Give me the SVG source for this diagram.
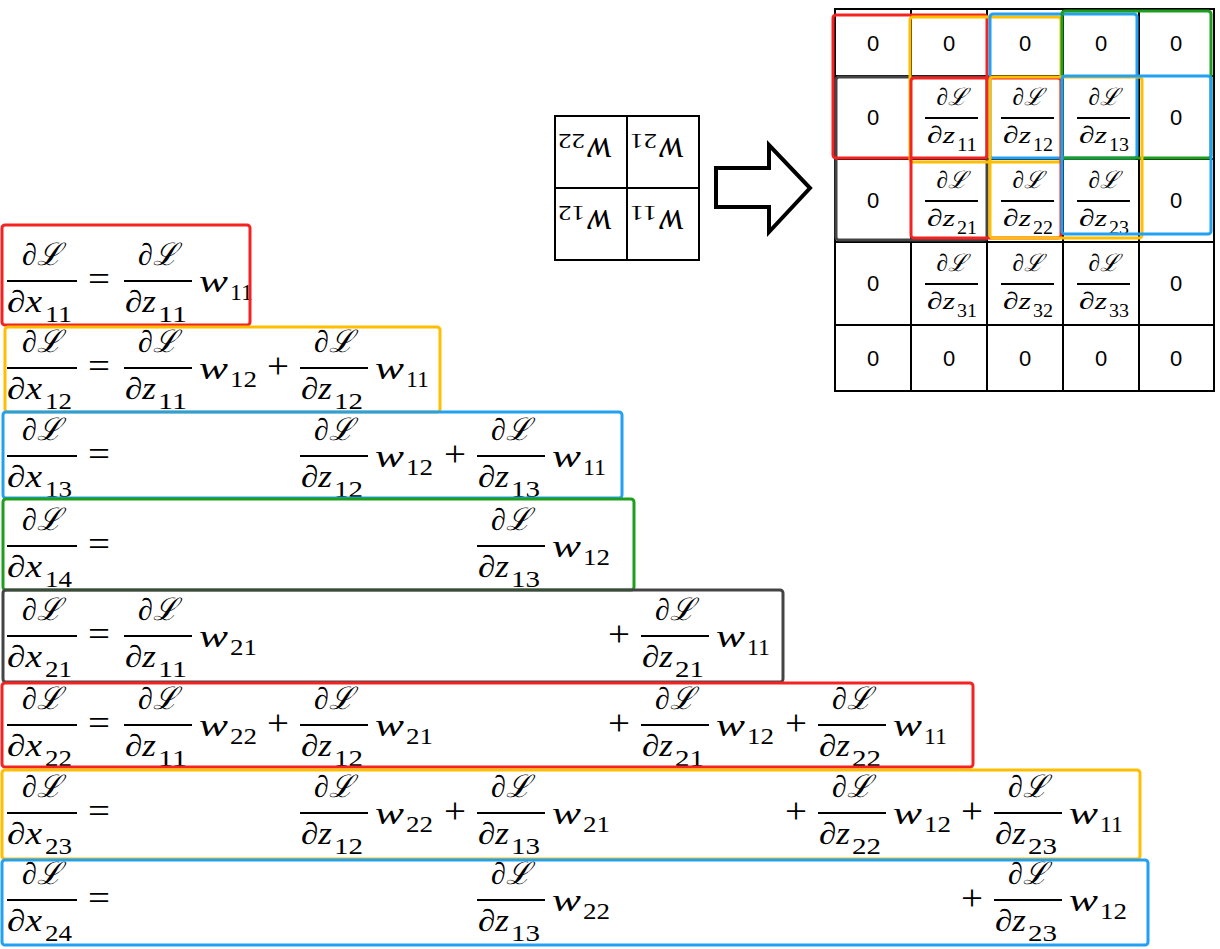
<svg xmlns="http://www.w3.org/2000/svg" width="1220" height="949" viewBox="0 0 1220 949">
<style>
.m{font-family:'Liberation Serif','DejaVu Serif',serif;font-style:italic;font-size:31px;fill:#000}
.s{font-family:'Liberation Serif','DejaVu Serif',serif;font-style:normal;font-size:24px;fill:#000}
.op{font-family:'Liberation Serif','DejaVu Serif',serif;font-size:36px;text-anchor:middle;fill:#000}
.num{text-anchor:middle}
.bar{stroke:#000;stroke-width:2}
.g{font-family:'Liberation Serif','DejaVu Serif',serif;font-style:italic;font-size:24px;fill:#000}
.gs{font-family:'Liberation Serif','DejaVu Serif',serif;font-style:normal;font-size:18px;fill:#000}
.z{font-family:'Liberation Sans',Arial,sans-serif;font-size:22px;text-anchor:middle;fill:#000}
.k{font-family:'Liberation Serif','DejaVu Serif',serif;font-style:italic;font-size:40px;fill:#000}
.ks{font-family:'Liberation Serif','DejaVu Serif',serif;font-style:normal;font-size:20px;fill:#000}
.box{fill:none;stroke-width:3}
.red{stroke:#F52222}.org{stroke:#FFBE00}.blu{stroke:#22A0F2}.grn{stroke:#1E9E1E}.gry{stroke:#444}
.cell{fill:none;stroke:#000;stroke-width:2}
</style>
<defs>
<clipPath id="c1"><rect x="0" y="224" width="252" height="102"/></clipPath>
<clipPath id="c2"><rect x="0" y="326" width="442" height="87"/></clipPath>
<clipPath id="c3"><rect x="0" y="411" width="624" height="88"/></clipPath>
<clipPath id="c4"><rect x="0" y="498" width="636" height="93"/></clipPath>
<clipPath id="c5"><rect x="0" y="589" width="785" height="94"/></clipPath>
<clipPath id="c6"><rect x="0" y="682" width="975" height="86"/></clipPath>
<clipPath id="c7"><rect x="0" y="769" width="1142" height="91"/></clipPath>
<clipPath id="c8"><rect x="0" y="859" width="1150" height="87"/></clipPath>
</defs>

<g id="kernel">
<rect class="cell" x="555" y="116" width="144" height="144"/>
<line class="cell" x1="627" y1="116" x2="627" y2="260"/>
<line class="cell" x1="555" y1="188" x2="699" y2="188"/>
<g transform="rotate(180 591 152)"><text class="k" x="570" y="166" textLength="25" lengthAdjust="spacingAndGlyphs">w</text><text class="ks" x="597" y="170" textLength="27" lengthAdjust="spacingAndGlyphs">22</text></g>
<g transform="rotate(180 663 152)"><text class="k" x="642" y="166" textLength="25" lengthAdjust="spacingAndGlyphs">w</text><text class="ks" x="669" y="170" textLength="27" lengthAdjust="spacingAndGlyphs">21</text></g>
<g transform="rotate(180 591 224)"><text class="k" x="570" y="238" textLength="25" lengthAdjust="spacingAndGlyphs">w</text><text class="ks" x="597" y="242" textLength="27" lengthAdjust="spacingAndGlyphs">12</text></g>
<g transform="rotate(180 663 224)"><text class="k" x="642" y="238" textLength="25" lengthAdjust="spacingAndGlyphs">w</text><text class="ks" x="669" y="242" textLength="27" lengthAdjust="spacingAndGlyphs">11</text></g>
</g>

<g id="connectors">
<path d="M716,168 L769,168 L769,145 L810,188 L769,232 L769,207 L716,207 Z" fill="#fff" stroke="#000" stroke-width="4"/>
</g>

<g id="grid">
<rect class="cell" x="835" y="9" width="379" height="382"/>
<line class="cell" x1="911" y1="9" x2="911" y2="391"/>
<line class="cell" x1="987" y1="9" x2="987" y2="391"/>
<line class="cell" x1="1063" y1="9" x2="1063" y2="391"/>
<line class="cell" x1="1139" y1="9" x2="1139" y2="391"/>
<line class="cell" x1="835" y1="76" x2="1214" y2="76"/>
<line class="cell" x1="835" y1="159" x2="1214" y2="159"/>
<line class="cell" x1="835" y1="242" x2="1214" y2="242"/>
<line class="cell" x1="835" y1="325" x2="1214" y2="325"/>
<text class="z" x="873" y="51">0</text><text class="z" x="949" y="51">0</text><text class="z" x="1025" y="51">0</text><text class="z" x="1101" y="51">0</text><text class="z" x="1176" y="51">0</text>
<text class="z" x="873" y="125">0</text><text class="z" x="1176" y="125">0</text>
<text class="z" x="873" y="208">0</text><text class="z" x="1176" y="208">0</text>
<text class="z" x="873" y="291">0</text><text class="z" x="1176" y="291">0</text>
<text class="z" x="873" y="366">0</text><text class="z" x="949" y="366">0</text><text class="z" x="1025" y="366">0</text><text class="z" x="1101" y="366">0</text><text class="z" x="1176" y="366">0</text>

<line class="bar" x1="925" y1="118" x2="978" y2="118"/><text class="g num" x="952" y="105" textLength="31" lengthAdjust="spacingAndGlyphs">∂ℒ</text><text class="g" x="927" y="143" textLength="28" lengthAdjust="spacingAndGlyphs">∂z</text><text class="gs" x="957" y="151" textLength="20" lengthAdjust="spacingAndGlyphs">11</text>
<line class="bar" x1="1001" y1="118" x2="1054" y2="118"/><text class="g num" x="1028" y="105" textLength="31" lengthAdjust="spacingAndGlyphs">∂ℒ</text><text class="g" x="1003" y="143" textLength="28" lengthAdjust="spacingAndGlyphs">∂z</text><text class="gs" x="1033" y="151" textLength="20" lengthAdjust="spacingAndGlyphs">12</text>
<line class="bar" x1="1077" y1="118" x2="1130" y2="118"/><text class="g num" x="1104" y="105" textLength="31" lengthAdjust="spacingAndGlyphs">∂ℒ</text><text class="g" x="1079" y="143" textLength="28" lengthAdjust="spacingAndGlyphs">∂z</text><text class="gs" x="1109" y="151" textLength="20" lengthAdjust="spacingAndGlyphs">13</text>

<line class="bar" x1="925" y1="201" x2="978" y2="201"/><text class="g num" x="952" y="188" textLength="31" lengthAdjust="spacingAndGlyphs">∂ℒ</text><text class="g" x="927" y="226" textLength="28" lengthAdjust="spacingAndGlyphs">∂z</text><text class="gs" x="957" y="234" textLength="20" lengthAdjust="spacingAndGlyphs">21</text>
<line class="bar" x1="1001" y1="201" x2="1054" y2="201"/><text class="g num" x="1028" y="188" textLength="31" lengthAdjust="spacingAndGlyphs">∂ℒ</text><text class="g" x="1003" y="226" textLength="28" lengthAdjust="spacingAndGlyphs">∂z</text><text class="gs" x="1033" y="234" textLength="20" lengthAdjust="spacingAndGlyphs">22</text>
<line class="bar" x1="1077" y1="201" x2="1130" y2="201"/><text class="g num" x="1104" y="188" textLength="31" lengthAdjust="spacingAndGlyphs">∂ℒ</text><text class="g" x="1079" y="226" textLength="28" lengthAdjust="spacingAndGlyphs">∂z</text><text class="gs" x="1109" y="234" textLength="20" lengthAdjust="spacingAndGlyphs">23</text>

<line class="bar" x1="925" y1="284" x2="978" y2="284"/><text class="g num" x="952" y="271" textLength="31" lengthAdjust="spacingAndGlyphs">∂ℒ</text><text class="g" x="927" y="309" textLength="28" lengthAdjust="spacingAndGlyphs">∂z</text><text class="gs" x="957" y="317" textLength="20" lengthAdjust="spacingAndGlyphs">31</text>
<line class="bar" x1="1001" y1="284" x2="1054" y2="284"/><text class="g num" x="1028" y="271" textLength="31" lengthAdjust="spacingAndGlyphs">∂ℒ</text><text class="g" x="1003" y="309" textLength="28" lengthAdjust="spacingAndGlyphs">∂z</text><text class="gs" x="1033" y="317" textLength="20" lengthAdjust="spacingAndGlyphs">32</text>
<line class="bar" x1="1077" y1="284" x2="1130" y2="284"/><text class="g num" x="1104" y="271" textLength="31" lengthAdjust="spacingAndGlyphs">∂ℒ</text><text class="g" x="1079" y="309" textLength="28" lengthAdjust="spacingAndGlyphs">∂z</text><text class="gs" x="1109" y="317" textLength="20" lengthAdjust="spacingAndGlyphs">33</text>

<rect class="box gry" x="836" y="77" width="151" height="163" rx="3"/>
<rect class="box red" x="833" y="15" width="154" height="143" rx="3"/>
<rect class="box org" x="910" y="17" width="151" height="145" rx="3"/>
<rect class="box blu" x="990" y="14" width="147" height="144" rx="3"/>
<rect class="box grn" x="1062" y="11" width="149" height="147" rx="3"/>
<rect class="box red" x="911" y="78" width="150" height="160" rx="3"/>
<rect class="box org" x="990" y="77" width="152" height="161" rx="3"/>
<rect class="box blu" x="1062" y="76" width="149" height="158" rx="3"/>
</g>

<g id="eq-x11">
<g clip-path="url(#c1)">
<line class="bar" x1="7" y1="281" x2="77" y2="281"/><text class="m num" x="42" y="265" textLength="40" lengthAdjust="spacingAndGlyphs">∂ℒ</text><text class="m" x="7" y="312" textLength="35" lengthAdjust="spacingAndGlyphs">∂x</text><text class="s" x="45" y="322" textLength="27" lengthAdjust="spacingAndGlyphs">11</text>
<text class="op" x="99" y="291" textLength="22" lengthAdjust="spacingAndGlyphs">=</text>
<line class="bar" x1="124" y1="281" x2="192" y2="281"/><text class="m num" x="158" y="265" textLength="40" lengthAdjust="spacingAndGlyphs">∂ℒ</text><text class="m" x="125" y="312" textLength="31" lengthAdjust="spacingAndGlyphs">∂z</text><text class="s" x="158" y="322" textLength="29" lengthAdjust="spacingAndGlyphs">11</text><text class="m" x="199" y="292" textLength="29" lengthAdjust="spacingAndGlyphs">w</text><text class="s" x="230" y="300" textLength="23" lengthAdjust="spacingAndGlyphs">11</text>
</g>
<rect class="box red" x="2" y="225" width="248" height="100" rx="3"/>
</g>

<g id="eq-x12">
<g clip-path="url(#c2)">
<line class="bar" x1="7" y1="368" x2="77" y2="368"/><text class="m num" x="42" y="352" textLength="40" lengthAdjust="spacingAndGlyphs">∂ℒ</text><text class="m" x="7" y="399" textLength="35" lengthAdjust="spacingAndGlyphs">∂x</text><text class="s" x="45" y="409" textLength="27" lengthAdjust="spacingAndGlyphs">12</text>
<text class="op" x="99" y="378" textLength="22" lengthAdjust="spacingAndGlyphs">=</text>
<line class="bar" x1="124" y1="368" x2="192" y2="368"/><text class="m num" x="158" y="352" textLength="40" lengthAdjust="spacingAndGlyphs">∂ℒ</text><text class="m" x="125" y="399" textLength="31" lengthAdjust="spacingAndGlyphs">∂z</text><text class="s" x="158" y="409" textLength="29" lengthAdjust="spacingAndGlyphs">11</text><text class="m" x="199" y="379" textLength="29" lengthAdjust="spacingAndGlyphs">w</text><text class="s" x="230" y="387" textLength="27" lengthAdjust="spacingAndGlyphs">12</text>
<text class="op" x="278" y="378" textLength="22" lengthAdjust="spacingAndGlyphs">+</text>
<line class="bar" x1="300" y1="368" x2="368" y2="368"/><text class="m num" x="334" y="352" textLength="40" lengthAdjust="spacingAndGlyphs">∂ℒ</text><text class="m" x="301" y="399" textLength="31" lengthAdjust="spacingAndGlyphs">∂z</text><text class="s" x="334" y="409" textLength="29" lengthAdjust="spacingAndGlyphs">12</text><text class="m" x="375" y="379" textLength="29" lengthAdjust="spacingAndGlyphs">w</text><text class="s" x="406" y="387" textLength="23" lengthAdjust="spacingAndGlyphs">11</text>
</g>
<rect class="box org" x="5" y="327" width="435" height="85" rx="3"/>
</g>

<g id="eq-x13">
<g clip-path="url(#c3)">
<line class="bar" x1="7" y1="456" x2="77" y2="456"/><text class="m num" x="42" y="440" textLength="40" lengthAdjust="spacingAndGlyphs">∂ℒ</text><text class="m" x="7" y="487" textLength="35" lengthAdjust="spacingAndGlyphs">∂x</text><text class="s" x="45" y="497" textLength="27" lengthAdjust="spacingAndGlyphs">13</text>
<text class="op" x="99" y="466" textLength="22" lengthAdjust="spacingAndGlyphs">=</text>
<line class="bar" x1="300" y1="456" x2="368" y2="456"/><text class="m num" x="334" y="440" textLength="40" lengthAdjust="spacingAndGlyphs">∂ℒ</text><text class="m" x="301" y="487" textLength="31" lengthAdjust="spacingAndGlyphs">∂z</text><text class="s" x="334" y="497" textLength="29" lengthAdjust="spacingAndGlyphs">12</text><text class="m" x="375" y="467" textLength="29" lengthAdjust="spacingAndGlyphs">w</text><text class="s" x="406" y="475" textLength="27" lengthAdjust="spacingAndGlyphs">12</text>
<text class="op" x="455" y="466" textLength="22" lengthAdjust="spacingAndGlyphs">+</text>
<line class="bar" x1="477" y1="456" x2="545" y2="456"/><text class="m num" x="511" y="440" textLength="40" lengthAdjust="spacingAndGlyphs">∂ℒ</text><text class="m" x="478" y="487" textLength="31" lengthAdjust="spacingAndGlyphs">∂z</text><text class="s" x="511" y="497" textLength="29" lengthAdjust="spacingAndGlyphs">13</text><text class="m" x="552" y="467" textLength="29" lengthAdjust="spacingAndGlyphs">w</text><text class="s" x="583" y="475" textLength="23" lengthAdjust="spacingAndGlyphs">11</text>
</g>
<rect class="box blu" x="3" y="412" width="619" height="86" rx="3"/>
</g>

<g id="eq-x14">
<g clip-path="url(#c4)">
<line class="bar" x1="7" y1="546" x2="77" y2="546"/><text class="m num" x="42" y="530" textLength="40" lengthAdjust="spacingAndGlyphs">∂ℒ</text><text class="m" x="7" y="577" textLength="35" lengthAdjust="spacingAndGlyphs">∂x</text><text class="s" x="45" y="587" textLength="27" lengthAdjust="spacingAndGlyphs">14</text>
<text class="op" x="99" y="556" textLength="22" lengthAdjust="spacingAndGlyphs">=</text>
<line class="bar" x1="477" y1="546" x2="545" y2="546"/><text class="m num" x="511" y="530" textLength="40" lengthAdjust="spacingAndGlyphs">∂ℒ</text><text class="m" x="478" y="577" textLength="31" lengthAdjust="spacingAndGlyphs">∂z</text><text class="s" x="511" y="587" textLength="29" lengthAdjust="spacingAndGlyphs">13</text><text class="m" x="552" y="557" textLength="29" lengthAdjust="spacingAndGlyphs">w</text><text class="s" x="583" y="565" textLength="27" lengthAdjust="spacingAndGlyphs">12</text>
</g>
<rect class="box grn" x="3" y="499" width="631" height="91" rx="3"/>
</g>

<g id="eq-x21">
<g clip-path="url(#c5)">
<line class="bar" x1="7" y1="636" x2="77" y2="636"/><text class="m num" x="42" y="620" textLength="40" lengthAdjust="spacingAndGlyphs">∂ℒ</text><text class="m" x="7" y="667" textLength="35" lengthAdjust="spacingAndGlyphs">∂x</text><text class="s" x="45" y="677" textLength="27" lengthAdjust="spacingAndGlyphs">21</text>
<text class="op" x="99" y="646" textLength="22" lengthAdjust="spacingAndGlyphs">=</text>
<line class="bar" x1="124" y1="636" x2="192" y2="636"/><text class="m num" x="158" y="620" textLength="40" lengthAdjust="spacingAndGlyphs">∂ℒ</text><text class="m" x="125" y="667" textLength="31" lengthAdjust="spacingAndGlyphs">∂z</text><text class="s" x="158" y="677" textLength="29" lengthAdjust="spacingAndGlyphs">11</text><text class="m" x="199" y="647" textLength="29" lengthAdjust="spacingAndGlyphs">w</text><text class="s" x="230" y="655" textLength="27" lengthAdjust="spacingAndGlyphs">21</text>
<text class="op" x="619" y="646" textLength="22" lengthAdjust="spacingAndGlyphs">+</text>
<line class="bar" x1="641" y1="636" x2="709" y2="636"/><text class="m num" x="675" y="620" textLength="40" lengthAdjust="spacingAndGlyphs">∂ℒ</text><text class="m" x="642" y="667" textLength="31" lengthAdjust="spacingAndGlyphs">∂z</text><text class="s" x="675" y="677" textLength="29" lengthAdjust="spacingAndGlyphs">21</text><text class="m" x="716" y="647" textLength="29" lengthAdjust="spacingAndGlyphs">w</text><text class="s" x="747" y="655" textLength="23" lengthAdjust="spacingAndGlyphs">11</text>
</g>
<rect class="box gry" x="3" y="590" width="780" height="92" rx="3"/>
</g>

<g id="eq-x22">
<g clip-path="url(#c6)">
<line class="bar" x1="7" y1="725" x2="77" y2="725"/><text class="m num" x="42" y="709" textLength="40" lengthAdjust="spacingAndGlyphs">∂ℒ</text><text class="m" x="7" y="756" textLength="35" lengthAdjust="spacingAndGlyphs">∂x</text><text class="s" x="45" y="766" textLength="27" lengthAdjust="spacingAndGlyphs">22</text>
<text class="op" x="99" y="735" textLength="22" lengthAdjust="spacingAndGlyphs">=</text>
<line class="bar" x1="124" y1="725" x2="192" y2="725"/><text class="m num" x="158" y="709" textLength="40" lengthAdjust="spacingAndGlyphs">∂ℒ</text><text class="m" x="125" y="756" textLength="31" lengthAdjust="spacingAndGlyphs">∂z</text><text class="s" x="158" y="766" textLength="29" lengthAdjust="spacingAndGlyphs">11</text><text class="m" x="199" y="736" textLength="29" lengthAdjust="spacingAndGlyphs">w</text><text class="s" x="230" y="744" textLength="27" lengthAdjust="spacingAndGlyphs">22</text>
<text class="op" x="278" y="735" textLength="22" lengthAdjust="spacingAndGlyphs">+</text>
<line class="bar" x1="300" y1="725" x2="368" y2="725"/><text class="m num" x="334" y="709" textLength="40" lengthAdjust="spacingAndGlyphs">∂ℒ</text><text class="m" x="301" y="756" textLength="31" lengthAdjust="spacingAndGlyphs">∂z</text><text class="s" x="334" y="766" textLength="29" lengthAdjust="spacingAndGlyphs">12</text><text class="m" x="375" y="736" textLength="29" lengthAdjust="spacingAndGlyphs">w</text><text class="s" x="406" y="744" textLength="27" lengthAdjust="spacingAndGlyphs">21</text>
<text class="op" x="619" y="735" textLength="22" lengthAdjust="spacingAndGlyphs">+</text>
<line class="bar" x1="641" y1="725" x2="709" y2="725"/><text class="m num" x="675" y="709" textLength="40" lengthAdjust="spacingAndGlyphs">∂ℒ</text><text class="m" x="642" y="756" textLength="31" lengthAdjust="spacingAndGlyphs">∂z</text><text class="s" x="675" y="766" textLength="29" lengthAdjust="spacingAndGlyphs">21</text><text class="m" x="716" y="736" textLength="29" lengthAdjust="spacingAndGlyphs">w</text><text class="s" x="747" y="744" textLength="27" lengthAdjust="spacingAndGlyphs">12</text>
<text class="op" x="796" y="735" textLength="22" lengthAdjust="spacingAndGlyphs">+</text>
<line class="bar" x1="818" y1="725" x2="886" y2="725"/><text class="m num" x="852" y="709" textLength="40" lengthAdjust="spacingAndGlyphs">∂ℒ</text><text class="m" x="819" y="756" textLength="31" lengthAdjust="spacingAndGlyphs">∂z</text><text class="s" x="852" y="766" textLength="29" lengthAdjust="spacingAndGlyphs">22</text><text class="m" x="893" y="736" textLength="29" lengthAdjust="spacingAndGlyphs">w</text><text class="s" x="924" y="744" textLength="23" lengthAdjust="spacingAndGlyphs">11</text>
</g>
<rect class="box red" x="2" y="683" width="971" height="84" rx="3"/>
</g>

<g id="eq-x23">
<g clip-path="url(#c7)">
<line class="bar" x1="7" y1="813" x2="77" y2="813"/><text class="m num" x="42" y="797" textLength="40" lengthAdjust="spacingAndGlyphs">∂ℒ</text><text class="m" x="7" y="844" textLength="35" lengthAdjust="spacingAndGlyphs">∂x</text><text class="s" x="45" y="854" textLength="27" lengthAdjust="spacingAndGlyphs">23</text>
<text class="op" x="99" y="823" textLength="22" lengthAdjust="spacingAndGlyphs">=</text>
<line class="bar" x1="300" y1="813" x2="368" y2="813"/><text class="m num" x="334" y="797" textLength="40" lengthAdjust="spacingAndGlyphs">∂ℒ</text><text class="m" x="301" y="844" textLength="31" lengthAdjust="spacingAndGlyphs">∂z</text><text class="s" x="334" y="854" textLength="29" lengthAdjust="spacingAndGlyphs">12</text><text class="m" x="375" y="824" textLength="29" lengthAdjust="spacingAndGlyphs">w</text><text class="s" x="406" y="832" textLength="27" lengthAdjust="spacingAndGlyphs">22</text>
<text class="op" x="455" y="823" textLength="22" lengthAdjust="spacingAndGlyphs">+</text>
<line class="bar" x1="477" y1="813" x2="545" y2="813"/><text class="m num" x="511" y="797" textLength="40" lengthAdjust="spacingAndGlyphs">∂ℒ</text><text class="m" x="478" y="844" textLength="31" lengthAdjust="spacingAndGlyphs">∂z</text><text class="s" x="511" y="854" textLength="29" lengthAdjust="spacingAndGlyphs">13</text><text class="m" x="552" y="824" textLength="29" lengthAdjust="spacingAndGlyphs">w</text><text class="s" x="583" y="832" textLength="27" lengthAdjust="spacingAndGlyphs">21</text>
<text class="op" x="796" y="823" textLength="22" lengthAdjust="spacingAndGlyphs">+</text>
<line class="bar" x1="818" y1="813" x2="886" y2="813"/><text class="m num" x="852" y="797" textLength="40" lengthAdjust="spacingAndGlyphs">∂ℒ</text><text class="m" x="819" y="844" textLength="31" lengthAdjust="spacingAndGlyphs">∂z</text><text class="s" x="852" y="854" textLength="29" lengthAdjust="spacingAndGlyphs">22</text><text class="m" x="893" y="824" textLength="29" lengthAdjust="spacingAndGlyphs">w</text><text class="s" x="924" y="832" textLength="27" lengthAdjust="spacingAndGlyphs">12</text>
<text class="op" x="972" y="823" textLength="22" lengthAdjust="spacingAndGlyphs">+</text>
<line class="bar" x1="994" y1="813" x2="1062" y2="813"/><text class="m num" x="1028" y="797" textLength="40" lengthAdjust="spacingAndGlyphs">∂ℒ</text><text class="m" x="995" y="844" textLength="31" lengthAdjust="spacingAndGlyphs">∂z</text><text class="s" x="1028" y="854" textLength="29" lengthAdjust="spacingAndGlyphs">23</text><text class="m" x="1069" y="824" textLength="29" lengthAdjust="spacingAndGlyphs">w</text><text class="s" x="1100" y="832" textLength="23" lengthAdjust="spacingAndGlyphs">11</text>
</g>
<rect class="box org" x="2" y="770" width="1138" height="89" rx="3"/>
</g>

<g id="eq-x24">
<g clip-path="url(#c8)">
<line class="bar" x1="7" y1="900" x2="77" y2="900"/><text class="m num" x="42" y="884" textLength="40" lengthAdjust="spacingAndGlyphs">∂ℒ</text><text class="m" x="7" y="931" textLength="35" lengthAdjust="spacingAndGlyphs">∂x</text><text class="s" x="45" y="941" textLength="27" lengthAdjust="spacingAndGlyphs">24</text>
<text class="op" x="99" y="910" textLength="22" lengthAdjust="spacingAndGlyphs">=</text>
<line class="bar" x1="477" y1="900" x2="545" y2="900"/><text class="m num" x="511" y="884" textLength="40" lengthAdjust="spacingAndGlyphs">∂ℒ</text><text class="m" x="478" y="931" textLength="31" lengthAdjust="spacingAndGlyphs">∂z</text><text class="s" x="511" y="941" textLength="29" lengthAdjust="spacingAndGlyphs">13</text><text class="m" x="552" y="911" textLength="29" lengthAdjust="spacingAndGlyphs">w</text><text class="s" x="583" y="919" textLength="27" lengthAdjust="spacingAndGlyphs">22</text>
<text class="op" x="972" y="910" textLength="22" lengthAdjust="spacingAndGlyphs">+</text>
<line class="bar" x1="994" y1="900" x2="1062" y2="900"/><text class="m num" x="1028" y="884" textLength="40" lengthAdjust="spacingAndGlyphs">∂ℒ</text><text class="m" x="995" y="931" textLength="31" lengthAdjust="spacingAndGlyphs">∂z</text><text class="s" x="1028" y="941" textLength="29" lengthAdjust="spacingAndGlyphs">23</text><text class="m" x="1069" y="911" textLength="29" lengthAdjust="spacingAndGlyphs">w</text><text class="s" x="1100" y="919" textLength="27" lengthAdjust="spacingAndGlyphs">12</text>
</g>
<rect class="box blu" x="2" y="860" width="1146" height="85" rx="3"/>
</g>
</svg>
